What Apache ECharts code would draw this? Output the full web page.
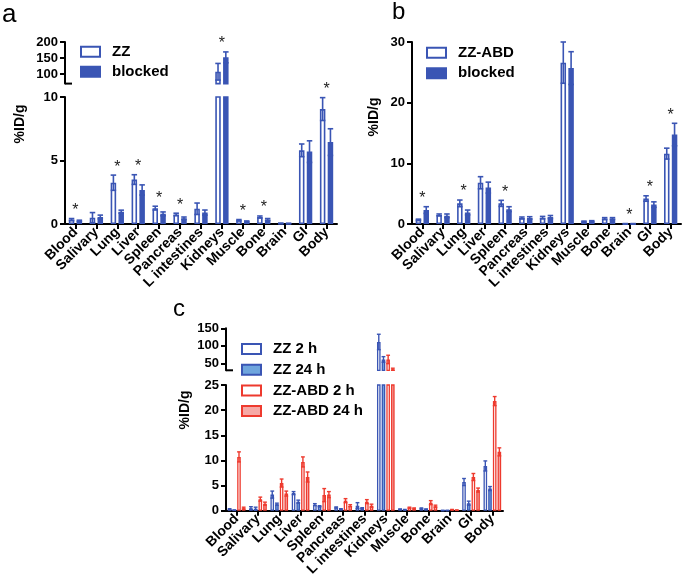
<!DOCTYPE html>
<html><head><meta charset="utf-8">
<script src="https://cdn.jsdelivr.net/npm/echarts@6/dist/echarts.min.js"></script>
<style>html,body{margin:0;padding:0;background:#fff}#c{width:685px;height:585px}</style>
</head><body><div id="c"></div>
<script>
// ---------- data ----------
const categories = ['Blood','Salivary','Lung','Liver','Spleen','Pancreas','L intestines','Kidneys','Muscle','Bone','Brain','GI','Body'];

// panel a
const aZZ     = [0.35, 0.5, 3.25, 3.5, 1.25, 0.75, 1.2, 107, 0.3, 0.55, 0.05, 5.8, 9.05];
const aZZErr  = [0.08, 0.4, 0.6, 0.38, 0.15, 0.1, 0.45, 26, 0.05, 0.08, 0.02, 0.5, 0.9];
const aBlk    = [0.25, 0.55, 0.97, 2.68, 0.8, 0.45, 0.9, 152, 0.2, 0.35, 0.04, 5.7, 6.45];
const aBlkErr = [0.05, 0.15, 0.12, 0.4, 0.15, 0.1, 0.2, 17, 0.04, 0.08, 0.02, 0.85, 1.05];
const aStar   = [1,0,1,1,1,1,0,1,1,1,0,0,1];

// panel b
const bZZ     = [0.7, 1.5, 3.4, 6.8, 3.4, 1.0, 1.05, 26.6, 0.4, 0.9, 0.05, 4.2, 11.6];
const bZZErr  = [0.1, 0.15, 0.55, 1.0, 0.5, 0.15, 0.2, 3.4, 0.08, 0.15, 0.02, 0.45, 0.9];
const bBlk    = [2.3, 1.35, 1.9, 6.0, 2.45, 1.0, 1.15, 25.7, 0.45, 0.9, 0.05, 3.2, 14.75];
const bBlkErr = [0.55, 0.3, 0.4, 0.9, 0.4, 0.2, 0.25, 2.7, 0.1, 0.15, 0.02, 0.45, 1.85];
const bStar   = [1,0,1,0,1,0,0,0,0,0,1,1,1];

// panel c
const cZZ2      = [0.3, 0.5, 3.2, 3.5, 1.2, 0.65, 1.0, 111, 0.3, 0.45, 0.05, 5.7, 8.9];
const cZZ2Err   = [0.1, 0.3, 0.7, 0.3, 0.2, 0.1, 0.6, 22, 0.05, 0.1, 0.02, 0.7, 1.0];
const cZZ24     = [0.1, 0.4, 1.3, 1.8, 0.9, 0.35, 0.5, 61, 0.2, 0.3, 0.05, 1.5, 4.4];
const cZZ24Err  = [0.05, 0.3, 0.2, 0.3, 0.1, 0.05, 0.1, 8, 0.05, 0.05, 0.02, 0.4, 0.4];
const cABD2     = [10.7, 2.3, 5.5, 9.7, 3.1, 2.0, 1.8, 61, 0.6, 1.6, 0.2, 6.7, 21.8];
const cABD2Err  = [1.0, 0.4, 0.8, 1.0, 1.3, 0.4, 0.4, 12, 0.1, 0.4, 0.05, 0.7, 0.9];
const cABD24    = [0.5, 1.4, 3.4, 6.7, 3.2, 1.0, 1.0, 33, 0.45, 0.9, 0.1, 4.1, 11.7];
const cABD24Err = [0.2, 0.3, 0.5, 1.0, 0.6, 0.2, 0.3, 3, 0.1, 0.2, 0.03, 0.4, 0.8];

// tick labels
const aUpperTicks = [100, 150, 200];
const cUpperTicks = [50, 100, 150];

// ---------- styles ----------
const FONT = '"Liberation Sans", Arial, Helvetica, sans-serif';
const BLUE = '#3a55b4', RED = '#ee3a2e', LBLUE = '#6fa5dd', PINK = '#f6a9a6';

const chart = echarts.init(document.getElementById('c'), null, {renderer: 'canvas', width: 685, height: 585});

function hollow(col, bw) { return {color: '#fff', borderColor: col, borderWidth: bw}; }
function filled(col, fill, bw) { return {color: fill, borderColor: col, borderWidth: bw}; }

function barSeries(name, vals, gi, style, w, gap) {
  return {type: 'bar', name, xAxisIndex: gi, yAxisIndex: gi, data: vals, barWidth: w,
    barGap: (gap * 100) + '%', itemStyle: style, clip: true, silent: true, z: 2, animation: false};
}

function errSeries(vals, errs, gi, n, i, w, gap, color, capW, lw) {
  return {
    type: 'custom', xAxisIndex: gi, yAxisIndex: gi, z: 3, silent: true, animation: false,
    data: vals.map((v, k) => [k, v, errs[k]]),
    encode: {x: 0, y: 1},
    renderItem: function (params, api) {
      const k = api.value(0), m = api.value(1), e = api.value(2);
      const cs = params.coordSys;
      const c = api.coord([k, m]);
      const total = n * w + (n - 1) * w * gap;
      const x = c[0] - total / 2 + i * w * (1 + gap) + w / 2;
      const yT = api.coord([k, m + e])[1], yB = api.coord([k, m - e])[1];
      const top = cs.y, bot = cs.y + cs.height;
      if (yT > bot || yB < top) return null;
      const st = {stroke: color, lineWidth: lw};
      const ch = [{type: 'line', shape: {x1: x, y1: Math.max(yT, top), x2: x, y2: Math.min(yB, bot)}, style: st}];
      if (yT >= top) ch.push({type: 'line', shape: {x1: x - capW / 2, y1: yT, x2: x + capW / 2, y2: yT}, style: st});
      if (yB <= bot) ch.push({type: 'line', shape: {x1: x - capW / 2, y1: yB, x2: x + capW / 2, y2: yB}, style: st});
      return {type: 'group', children: ch};
    }
  };
}

function starSeries(stars, lists, gi) {
  const data = [];
  stars.forEach((s, k) => {
    if (s) {
      let t = -Infinity;
      lists.forEach(([v, e]) => { t = Math.max(t, v[k] + e[k]); });
      data.push([k, t]);
    }
  });
  return {
    type: 'custom', xAxisIndex: gi, yAxisIndex: gi, z: 4, silent: true, animation: false,
    data, encode: {x: 0, y: 1},
    renderItem: function (params, api) {
      const p = api.coord([api.value(0), api.value(1)]);
      const cs = params.coordSys;
      if (p[1] < cs.y - 1 || p[1] > cs.y + cs.height) return null;
      return {type: 'text', x: p[0], y: p[1] - 8,
        style: {text: '*', fill: '#222', font: '16px ' + FONT, align: 'center', verticalAlign: 'middle'}};
    }
  };
}

const axLine = {show: true, lineStyle: {color: '#000', width: 2}};
const axTick = {show: true, length: 5, lineStyle: {color: '#000', width: 2}};
const yLab = {color: '#000', fontWeight: 'bold', fontSize: 13, fontFamily: FONT, margin: 7};

function xAxisLower(gi) {
  return {type: 'category', gridIndex: gi, data: categories, axisLine: axLine,
    axisTick: Object.assign({alignWithLabel: true}, axTick),
    axisLabel: {interval: 0, rotate: 45, color: '#000', fontWeight: 'bold', fontSize: 14, fontFamily: FONT, margin: 6},
    splitLine: {show: false}};
}
function xAxisHidden(gi) {
  return {type: 'category', gridIndex: gi, data: categories, show: false};
}
function yAxisUpper(gi, min, max, ticks) {
  return {type: 'value', gridIndex: gi, min, max, axisLine: axLine,
    axisTick: Object.assign({customValues: ticks}, axTick),
    axisLabel: Object.assign({customValues: ticks}, yLab), splitLine: {show: false}};
}
function yAxisLower(gi, min, max, interval) {
  return {type: 'value', gridIndex: gi, min, max, interval, axisLine: axLine, axisTick: axTick,
    axisLabel: yLab, splitLine: {show: false}};
}

const legText = {color: '#000', fontWeight: 'bold', fontSize: 15, fontFamily: FONT, lineHeight: 15, padding: [0, 0, 0, 7]};
function legItem(name, style) { return {name, itemStyle: style}; }

const A_W = 5.5, A_G = 0.42, C_W = 3.6, C_G = 0.3;

const option = {
  animation: false,
  backgroundColor: '#fff',
  grid: [
    {left: 65, top: 42, width: 272, height: 41.6, outerBoundsMode: 'none'},
    {left: 65, top: 97, width: 272, height: 127, outerBoundsMode: 'none'},
    {left: 412, top: 42, width: 269, height: 182, outerBoundsMode: 'none'},
    {left: 226, top: 328.3, width: 277, height: 42, outerBoundsMode: 'none'},
    {left: 226, top: 385, width: 277, height: 125.7, outerBoundsMode: 'none'}
  ],
  xAxis: [xAxisHidden(0), xAxisLower(1), xAxisLower(2), xAxisHidden(3), xAxisLower(4)],
  yAxis: [
    yAxisUpper(0, 70, 200, aUpperTicks),
    yAxisLower(1, 0, 10, 5),
    yAxisLower(2, 0, 30, 10),
    yAxisUpper(3, 30, 150, cUpperTicks),
    yAxisLower(4, 0, 25, 5)
  ],
  legend: [
    {orient: 'vertical', left: 80, top: 44.2, padding: 0, itemWidth: 19, itemHeight: 10, itemGap: 5, icon: 'rect',
      selectedMode: false, textStyle: legText,
      data: [legItem('ZZ', hollow(BLUE, 2)), legItem('blocked', filled(BLUE, BLUE, 2))]},
    {orient: 'vertical', left: 426, top: 45.2, padding: 0, itemWidth: 19, itemHeight: 10, itemGap: 5.6, icon: 'rect',
      selectedMode: false, textStyle: legText,
      data: [legItem('ZZ-ABD', hollow(BLUE, 2)), legItem('blocked', filled(BLUE, BLUE, 2))]},
    {orient: 'vertical', left: 241, top: 341.5, padding: 0, itemWidth: 19, itemHeight: 10, itemGap: 5.7, icon: 'rect',
      selectedMode: false, textStyle: legText,
      data: [legItem('ZZ 2 h', hollow(BLUE, 2)), legItem('ZZ 24 h', filled(BLUE, LBLUE, 2)),
             legItem('ZZ-ABD 2 h', hollow(RED, 2)), legItem('ZZ-ABD 24 h', filled(RED, PINK, 2))]}
  ],
  series: [
    // panel a
    barSeries('ZZ', aZZ, 0, hollow(BLUE, 1.6), A_W, A_G),
    barSeries('blocked', aBlk, 0, filled(BLUE, BLUE, 1.6), A_W, A_G),
    barSeries('ZZ', aZZ, 1, hollow(BLUE, 1.6), A_W, A_G),
    barSeries('blocked', aBlk, 1, filled(BLUE, BLUE, 1.6), A_W, A_G),
    errSeries(aZZ, aZZErr, 0, 2, 0, A_W, A_G, BLUE, 5.5, 1.6),
    errSeries(aBlk, aBlkErr, 0, 2, 1, A_W, A_G, BLUE, 5.5, 1.6),
    errSeries(aZZ, aZZErr, 1, 2, 0, A_W, A_G, BLUE, 5.5, 1.6),
    errSeries(aBlk, aBlkErr, 1, 2, 1, A_W, A_G, BLUE, 5.5, 1.6),
    starSeries(aStar, [[aZZ, aZZErr], [aBlk, aBlkErr]], 0),
    starSeries(aStar, [[aZZ, aZZErr], [aBlk, aBlkErr]], 1),
    // panel b
    barSeries('ZZ-ABD', bZZ, 2, hollow(BLUE, 1.6), A_W, A_G),
    barSeries('blocked', bBlk, 2, filled(BLUE, BLUE, 1.6), A_W, A_G),
    errSeries(bZZ, bZZErr, 2, 2, 0, A_W, A_G, BLUE, 5.5, 1.6),
    errSeries(bBlk, bBlkErr, 2, 2, 1, A_W, A_G, BLUE, 5.5, 1.6),
    starSeries(bStar, [[bZZ, bZZErr], [bBlk, bBlkErr]], 2),
    // panel c
    barSeries('ZZ 2 h', cZZ2, 3, hollow(BLUE, 1.3), C_W, C_G),
    barSeries('ZZ 24 h', cZZ24, 3, filled(BLUE, LBLUE, 1.3), C_W, C_G),
    barSeries('ZZ-ABD 2 h', cABD2, 3, hollow(RED, 1.3), C_W, C_G),
    barSeries('ZZ-ABD 24 h', cABD24, 3, filled(RED, PINK, 1.3), C_W, C_G),
    barSeries('ZZ 2 h', cZZ2, 4, hollow(BLUE, 1.3), C_W, C_G),
    barSeries('ZZ 24 h', cZZ24, 4, filled(BLUE, LBLUE, 1.3), C_W, C_G),
    barSeries('ZZ-ABD 2 h', cABD2, 4, hollow(RED, 1.3), C_W, C_G),
    barSeries('ZZ-ABD 24 h', cABD24, 4, filled(RED, PINK, 1.3), C_W, C_G),
    errSeries(cZZ2, cZZ2Err, 3, 4, 0, C_W, C_G, BLUE, 3.8, 1.4),
    errSeries(cZZ24, cZZ24Err, 3, 4, 1, C_W, C_G, BLUE, 3.8, 1.4),
    errSeries(cABD2, cABD2Err, 3, 4, 2, C_W, C_G, RED, 3.8, 1.4),
    errSeries(cABD24, cABD24Err, 3, 4, 3, C_W, C_G, RED, 3.8, 1.4),
    errSeries(cZZ2, cZZ2Err, 4, 4, 0, C_W, C_G, BLUE, 3.8, 1.4),
    errSeries(cZZ24, cZZ24Err, 4, 4, 1, C_W, C_G, BLUE, 3.8, 1.4),
    errSeries(cABD2, cABD2Err, 4, 4, 2, C_W, C_G, RED, 3.8, 1.4),
    errSeries(cABD24, cABD24Err, 4, 4, 3, C_W, C_G, RED, 3.8, 1.4)
  ],
  graphic: [
    {type: 'text', left: 2, top: 2, style: {text: 'a', font: '26px ' + FONT, fill: '#000'}},
    {type: 'text', left: 392, top: 0, style: {text: 'b', font: '24px ' + FONT, fill: '#000'}},
    {type: 'text', left: 173, top: 297, style: {text: 'c', font: '24px ' + FONT, fill: '#000'}},
    {type: 'text', x: 20, y: 124, rotation: Math.PI / 2,
      style: {text: '%ID/g', font: 'bold 14px ' + FONT, fill: '#000', align: 'center', verticalAlign: 'middle'}},
    {type: 'text', x: 374, y: 117, rotation: Math.PI / 2,
      style: {text: '%ID/g', font: 'bold 14px ' + FONT, fill: '#000', align: 'center', verticalAlign: 'middle'}},
    {type: 'text', x: 185, y: 410, rotation: Math.PI / 2,
      style: {text: '%ID/g', font: 'bold 14px ' + FONT, fill: '#000', align: 'center', verticalAlign: 'middle'}},
    // axis break stubs
    {type: 'line', shape: {x1: 65, y1: 83.6, x2: 72, y2: 83.6}, style: {stroke: '#000', lineWidth: 2}},
    {type: 'line', shape: {x1: 226, y1: 370.3, x2: 233, y2: 370.3}, style: {stroke: '#000', lineWidth: 2}}
  ]
};
chart.setOption(option);
</script></body></html>
